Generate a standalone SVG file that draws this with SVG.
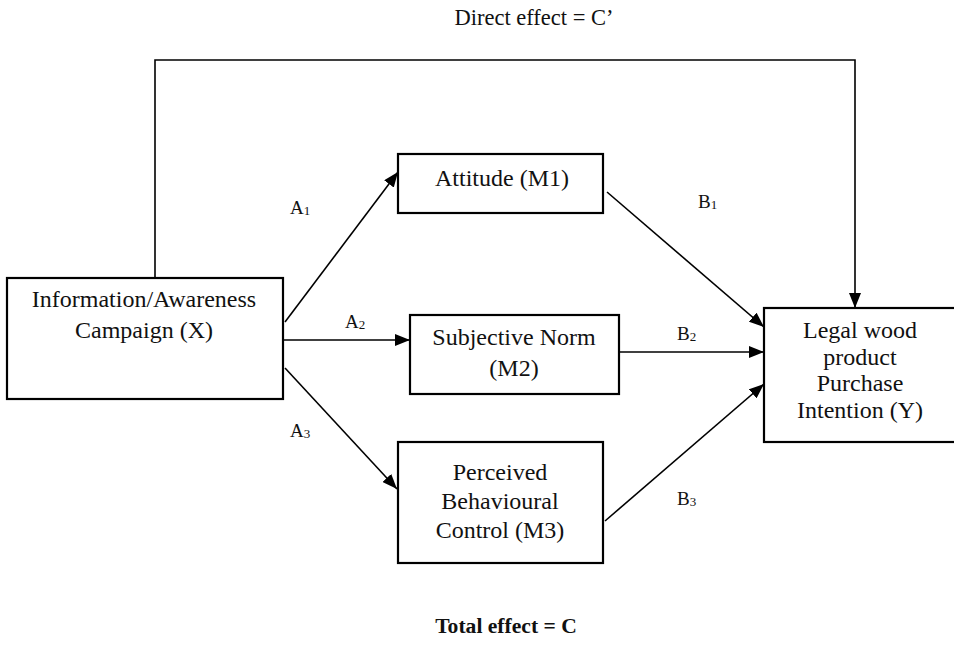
<svg xmlns="http://www.w3.org/2000/svg" width="954" height="646" viewBox="0 0 954 646">
<style>
.box{fill:#fff;stroke:#000;stroke-width:2.2}
.t{font-family:"Liberation Serif","Times New Roman",serif;font-size:24px;fill:#111;text-anchor:middle}
.lab{font-family:"Liberation Serif","Times New Roman",serif;font-size:19px;fill:#111}
.sub{font-size:13px}
.ln{stroke:#000;stroke-width:1.6;fill:none;marker-end:url(#ah)}
</style>
<defs>
<marker id="ah" markerUnits="userSpaceOnUse" markerWidth="16" markerHeight="12" refX="15" refY="6" orient="auto">
<path d="M0,0 L15,6 L0,12 z" fill="#000"/>
</marker>
</defs>
<rect width="954" height="646" fill="#fff"/>
<text x="534" y="25" class="t" style="font-size:22.5px">Direct effect = C’</text>
<text x="506" y="633" class="t" style="font-size:21.6px;font-weight:bold">Total effect = C</text>
<g id="connectors">
<path class="ln" d="M155,278 V60 H855 V308"/>
<line class="ln" x1="285" y1="322" x2="398" y2="172"/>
<line class="ln" x1="284" y1="340" x2="410" y2="340"/>
<line class="ln" x1="285" y1="368" x2="397" y2="489"/>
<line class="ln" x1="607" y1="192" x2="764" y2="327"/>
<line class="ln" x1="620" y1="352" x2="764" y2="352"/>
<line class="ln" x1="605" y1="521" x2="764" y2="384"/>
<text class="lab" x="290" y="214">A<tspan class="sub" dy="1">1</tspan></text>
<text class="lab" x="345" y="328">A<tspan class="sub" dy="1">2</tspan></text>
<text class="lab" x="290" y="437">A<tspan class="sub" dy="1">3</tspan></text>
<text class="lab" x="698" y="208">B<tspan class="sub" dy="1">1</tspan></text>
<text class="lab" x="677" y="340">B<tspan class="sub" dy="1">2</tspan></text>
<text class="lab" x="677" y="505">B<tspan class="sub" dy="1">3</tspan></text>
</g>
<g id="X">
<rect class="box" x="7" y="278" width="276" height="121"/>
<text class="t" x="144" y="307">Information/Awareness</text>
<text class="t" x="144" y="338">Campaign (X)</text>
</g>
<g id="M1">
<rect class="box" x="398" y="154" width="205" height="59"/>
<text class="t" x="502" y="186">Attitude (M1)</text>
</g>
<g id="M2">
<rect class="box" x="410" y="315" width="209" height="79"/>
<text class="t" x="514" y="345">Subjective Norm</text>
<text class="t" x="514" y="376">(M2)</text>
</g>
<g id="M3">
<rect class="box" x="398" y="442" width="205" height="121"/>
<text class="t" x="500" y="480">Perceived</text>
<text class="t" x="500" y="509">Behavioural</text>
<text class="t" x="500" y="538">Control (M3)</text>
</g>
<g id="Y">
<rect class="box" x="764" y="308" width="196" height="134"/>
<text class="t" x="860" y="338">Legal wood</text>
<text class="t" x="860" y="365">product</text>
<text class="t" x="860" y="391">Purchase</text>
<text class="t" x="860" y="418">Intention (Y)</text>
</g>
</svg>
